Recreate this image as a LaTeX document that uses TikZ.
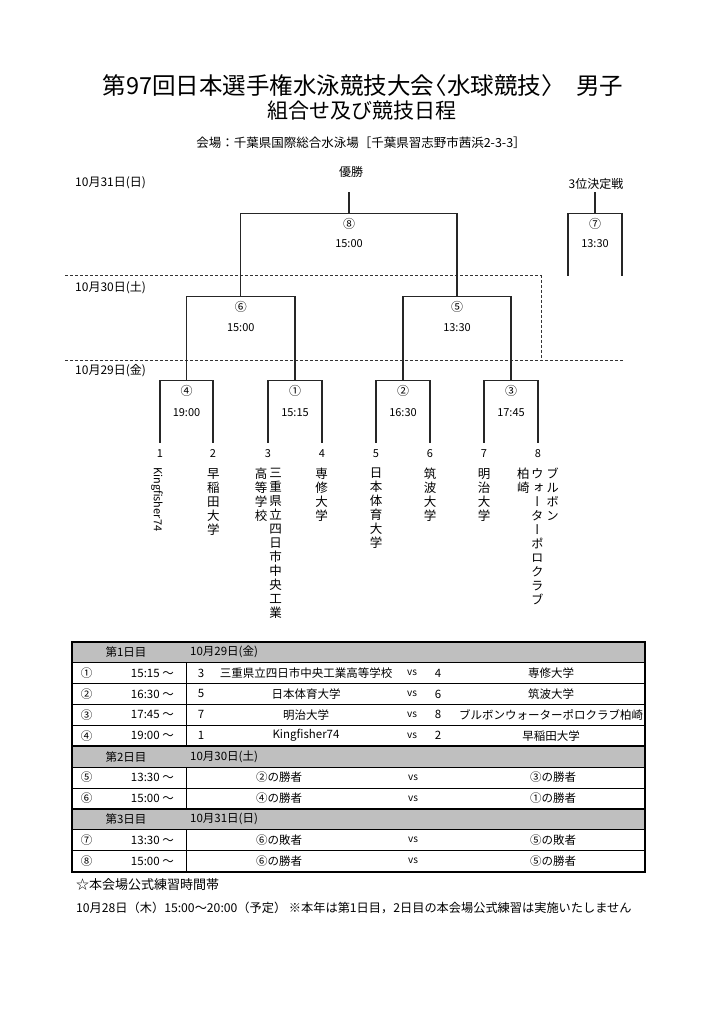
\documentclass[tikz,border=0pt]{standalone}
\usepackage{fontspec}
\setmainfont{Noto Sans CJK JP}
\newfontfamily\vjp[RawFeature=+vert]{Noto Sans CJK JP}

\begin{document}
\begin{tikzpicture}[x=1pt,y=-1pt,
    bline/.style={line width=1.3pt,black!85},
    dline/.style={line width=1pt,black!80,dash pattern=on 3pt off 2pt},
    lbl/.style={inner sep=0pt,font=\fontsize{12}{13}\selectfont},
    tlbl/.style={inner sep=0pt,font=\fontsize{11}{12}\selectfont},
    team/.style={inner sep=0pt,anchor=north,align=center,font=\vjp\fontsize{12.5}{14}\selectfont},
    cell/.style={inner sep=0pt,font=\fontsize{11.5}{13}\selectfont},
    vs/.style={inner sep=0pt,font=\fontsize{10}{12}\selectfont}]
  \useasboundingbox (0,0) rectangle (724,1024);
  \fill[white] (0,0) rectangle (724,1024);

  % title
  \node[inner sep=0pt,font=\fontsize{23.5}{25}\selectfont] (title) at (363,86) {第97回日本選手権水泳競技大会\kern-0.45em〈水球競技〉\hspace{0.5em}男子};
  \node[inner sep=0pt,font=\fontsize{21}{24}\selectfont] (subtitle) at (362,111) {組合せ及び競技日程};
  \node[inner sep=0pt,font=\fontsize{12.5}{14}\selectfont] (venue) at (361,143) {会場：千葉県国際総合水泳場［千葉県習志野市茜浜2-3-3］};

  % days
  \node[lbl,anchor=west] (d31) at (75,183) {10月31日(日)};
  \node[lbl,anchor=west] (d30) at (75,288) {10月30日(土)};
  \node[lbl,anchor=west] (d29) at (75,371) {10月29日(金)};
  \draw[dline] (65,275.7) -- (541,275.7) -- (541,360);
  \draw[dline] (65,360) -- (623,360);

  % bracket
  \coordinate (win) at (349,192);
  \coordinate (m8) at (349,213.3);
  \coordinate (m6) at (240.75,296.7);
  \coordinate (m5) at (457,296.7);
  \coordinate (m4) at (186.5,380.7);
  \coordinate (m1) at (295,380.7);
  \coordinate (m2) at (403,380.7);
  \coordinate (m3) at (511,380.7);
  \foreach \n/\x in {1/160,2/213,3/268,4/322,5/376,6/430,7/484,8/538}
    \coordinate (t\n) at (\x,442.7);
  \draw[bline] (t1) |- (m4) -| (t2);
  \draw[bline] (t3) |- (m1) -| (t4);
  \draw[bline] (t5) |- (m2) -| (t6);
  \draw[bline] (t7) |- (m3) -| (t8);
  \draw[bline] (m4) |- (m6) -| (m1);
  \draw[bline] (m2) |- (m5) -| (m3);
  \draw[bline] (m6) |- (m8) -| (m5);
  \draw[bline] (m8) -- (win);

  % 3rd place
  \coordinate (third) at (595,192);
  \coordinate (m7) at (595,213.3);
  \coordinate (p6) at (568,275.7);
  \coordinate (p5) at (622,275.7);
  \draw[bline] (p6) |- (m7) -| (p5);
  \draw[bline] (m7) -- (third);

  \node[lbl] (champ) at (351,172) {優勝};
  \node[lbl] (thirdlbl) at (596,184) {3位決定戦};
  \node[lbl] (n8) at (349,224) {⑧};
  \node[tlbl] (h8) at (349,244) {15:00};
  \node[lbl] (n7) at (595,224) {⑦};
  \node[tlbl] (h7) at (595,244) {13:30};
  \node[lbl] (n6) at (240.75,307) {⑥};
  \node[tlbl] (h6) at (240.75,328) {15:00};
  \node[lbl] (n5) at (457,307) {⑤};
  \node[tlbl] (h5) at (457,328) {13:30};
  \foreach \m/\h in {4/19:00,1/15:15,2/16:30,3/17:45} {
    \path (m\m) ++(0,10.5) node[lbl] (n\m) {\ifcase\m\or ①\or ②\or ③\or ④\fi};
    \path (m\m) ++(0,32) node[tlbl] (h\m) {\h};
  }
  \foreach \n in {1,...,8}
    \path (t\n) ++(0,11.3) node[tlbl] (s\n) {\n};

  % teams
  \node[inner sep=0pt,rotate=-90,anchor=west,font=\fontsize{11}{12}\selectfont] (k1) at (157,467) {Kingfisher74};
  \node[team] (k2) at (213.3,468) {早\\稲\\田\\大\\学};
  \node[team] (k3a) at (275.7,468) {三\\重\\県\\立\\四\\日\\市\\中\\央\\工\\業};
  \node[team] (k3b) at (261,468) {高\\等\\学\\校};
  \node[team] (k4) at (321.7,468) {専\\修\\大\\学};
  \node[team] (k5) at (376,468) {日\\本\\体\\育\\大\\学};
  \node[team] (k6) at (430,468) {筑\\波\\大\\学};
  \node[team] (k7) at (484,468) {明\\治\\大\\学};
  \node[team] (k8a) at (552.7,468) {ブ\\ル\\ボ\\ン};
  \node[team] (k8b) at (537.3,468) {ウ\\ォ\\ー\\タ\\ー\\ポ\\ロ\\ク\\ラ\\ブ};
  \node[team] (k8c) at (523.3,468) {柏\\崎};

  % table
  \foreach \r in {0,5,8}
    \fill[gray!50] (72.3,{641.7+20.9*\r}) rectangle (645,{662.6+20.9*\r});
  \foreach \r in {1,...,10}
    \draw[line width=0.8pt] (72.3,{641.7+20.9*\r}) -- (645,{641.7+20.9*\r});
  \draw[line width=1.6pt] (72.3,746.2) -- (645,746.2);
  \draw[line width=1.6pt] (72.3,808.9) -- (645,808.9);
  \draw[line width=0.8pt] (186.7,662.6) -- (186.7,746.2) (186.7,767.1) -- (186.7,808.9) (186.7,829.8) -- (186.7,871.6);
  \draw[line width=1.8pt] (72.3,641.7) rectangle (645,871.6);

  \foreach \r/\dn/\dt in {0/1/10月29日(金),5/2/10月30日(土),8/3/10月31日(日)} {
    \node[cell] (day\dn) at (126,{652.15+20.9*\r}) {第\dn 日目};
    \node[cell,anchor=west] (date\dn) at (190,{652.15+20.9*\r}) {\dt};
  }
  \foreach \r/\m/\tm/\sa/\ta/\sb/\tb in {1/①/15:15/3/三重県立四日市中央工業高等学校/4/専修大学,
      2/②/16:30/5/日本体育大学/6/筑波大学,
      3/③/17:45/7/明治大学/8/ブルボンウォーターポロクラブ柏崎,
      4/④/19:00/1/Kingfisher74/2/早稲田大学} {
    \node[cell] (no\r) at (86.7,{652.15+20.9*\r}) {\m};
    \node[cell,anchor=east] (tm\r) at (174,{652.15+20.9*\r}) {\tm\ ～};
    \node[cell] (sa\r) at (201,{652.15+20.9*\r}) {\sa};
    \node[cell] (ta\r) at (306,{652.15+20.9*\r}) {\ta};
    \node[vs] (vs\r) at (412,{652.15+20.9*\r}) {vs};
    \node[cell] (sb\r) at (438,{652.15+20.9*\r}) {\sb};
    \node[cell] (tb\r) at (551,{652.15+20.9*\r}) {\tb};
  }
  \foreach \r/\m/\tm/\ta/\tb in {6/⑤/13:30/②の勝者/③の勝者,
      7/⑥/15:00/④の勝者/①の勝者,
      9/⑦/13:30/⑥の敗者/⑤の敗者,
      10/⑧/15:00/⑥の勝者/⑤の勝者} {
    \node[cell] (no\r) at (86.7,{652.15+20.9*\r}) {\m};
    \node[cell,anchor=east] (tm\r) at (174,{652.15+20.9*\r}) {\tm\ ～};
    \node[cell] (ta\r) at (279,{652.15+20.9*\r}) {\ta};
    \node[vs] (vs\r) at (413,{652.15+20.9*\r}) {vs};
    \node[cell] (tb\r) at (553,{652.15+20.9*\r}) {\tb};
  }

  % notes
  \node[inner sep=0pt,anchor=west,font=\fontsize{13}{14}\selectfont] (note) at (76,884.3) {☆本会場公式練習時間帯};
  \node[inner sep=0pt,anchor=west,font=\fontsize{12.2}{13}\selectfont] (practice) at (76,907.7) {10月28日（木）15:00～20:00（予定）\ ※本年は第1日目，2日目の本会場公式練習は実施いたしません};
\end{tikzpicture}
\end{document}
